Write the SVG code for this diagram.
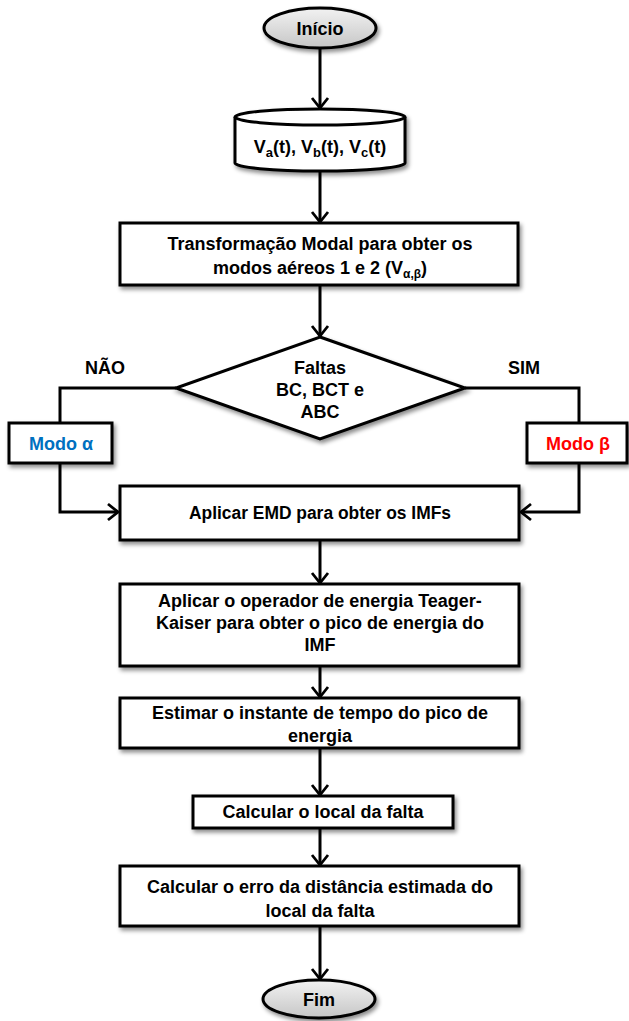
<svg xmlns="http://www.w3.org/2000/svg" width="629" height="1021" viewBox="0 0 629 1021">
<style>
  .shape { fill: #ffffff; stroke: #000000; stroke-width: 3; }
  .term { fill: url(#gray); stroke: #000000; stroke-width: 3; }
  .t { font-family: "Liberation Sans", Arial, sans-serif; font-weight: bold; font-size: 18px; fill: #000000; text-anchor: middle; }
  .conn { fill: none; stroke: #000000; stroke-width: 3; }
</style>
<defs>
  <linearGradient id="gray" x1="0" y1="0" x2="0" y2="1">
    <stop offset="0" stop-color="#f2f2f2"/>
    <stop offset="1" stop-color="#c6c6c6"/>
  </linearGradient>
  <filter id="sh" x="-10%" y="-20%" width="130%" height="160%">
    <feDropShadow dx="2" dy="3" stdDeviation="2" flood-color="#000000" flood-opacity="0.45"/>
  </filter>
  <marker id="arr" viewBox="-12 -11 14 22" refX="0" refY="0" markerWidth="14" markerHeight="22" markerUnits="userSpaceOnUse" orient="auto">
    <path d="M-10,-8 L0,0 L-10,8" fill="none" stroke="#000000" stroke-width="2.8"/>
  </marker>
</defs>

<g id="connectors">
  <line class="conn" x1="320" y1="48" x2="320" y2="108" marker-end="url(#arr)"/>
  <line class="conn" x1="320" y1="171" x2="320" y2="222" marker-end="url(#arr)"/>
  <line class="conn" x1="320" y1="285" x2="320" y2="336" marker-end="url(#arr)"/>
  <polyline class="conn" points="176,388 60,388 60,423"/>
  <polyline class="conn" points="465,388 579,388 579,423"/>
  <polyline class="conn" points="60,463 60,512 118,512" marker-end="url(#arr)"/>
  <polyline class="conn" points="579,463 579,512 521,512" marker-end="url(#arr)"/>
  <line class="conn" x1="320" y1="540" x2="320" y2="583" marker-end="url(#arr)"/>
  <line class="conn" x1="320" y1="666" x2="320" y2="697" marker-end="url(#arr)"/>
  <line class="conn" x1="320" y1="748" x2="320" y2="795" marker-end="url(#arr)"/>
  <line class="conn" x1="320" y1="828" x2="320" y2="865" marker-end="url(#arr)"/>
  <line class="conn" x1="320" y1="926" x2="320" y2="979" marker-end="url(#arr)"/>
</g>

<g id="inicio">
  <ellipse class="term" cx="320" cy="28" rx="56" ry="20" filter="url(#sh)"/>
  <text class="t" x="320" y="35" font-size="20">Início</text>
</g>

<g id="entrada">
  <path class="shape" filter="url(#sh)" d="M235,117 L235,163 A85,8 0 0 0 405,163 L405,117 A85,8 0 0 0 235,117 Z"/>
  <path d="M235,117 A85,8 0 0 0 405,117" fill="none" stroke="#000000" stroke-width="3"/>
  <text class="t" x="320" y="153" font-size="19">V<tspan font-size="13" dy="4">a</tspan><tspan dy="-4">(t), V</tspan><tspan font-size="13" dy="4">b</tspan><tspan dy="-4">(t), V</tspan><tspan font-size="13" dy="4">c</tspan><tspan dy="-4">(t)</tspan></text>
</g>

<g id="transformacao">
  <rect class="shape" x="120" y="223" width="398" height="62" filter="url(#sh)"/>
  <text class="t" x="320" y="250">Transformação Modal para obter os</text>
  <text class="t" x="320" y="274">modos aéreos 1 e 2 (V<tspan font-size="12" dy="4">α,β</tspan><tspan dy="-4">)</tspan></text>
</g>

<g id="decisao">
  <polygon class="shape" points="320,337 465,388 320,439 176,388" filter="url(#sh)"/>
  <text class="t" x="320" y="374">Faltas</text>
  <text class="t" x="320" y="396">BC, BCT e</text>
  <text class="t" x="320" y="418">ABC</text>
</g>

<g id="label-nao">
  <text class="t" x="105" y="374">NÃO</text>
</g>
<g id="label-sim">
  <text class="t" x="524" y="374">SIM</text>
</g>

<g id="modo-alfa">
  <rect class="shape" x="9" y="423" width="103" height="40" filter="url(#sh)"/>
  <text class="t" x="61" y="450" style="fill:#0070C0">Modo α</text>
</g>

<g id="modo-beta">
  <rect class="shape" x="527" y="423" width="100" height="40" filter="url(#sh)"/>
  <text class="t" x="578" y="450" style="fill:#FF0000">Modo β</text>
</g>

<g id="emd">
  <rect class="shape" x="120" y="486" width="399" height="54" filter="url(#sh)"/>
  <text class="t" x="320" y="519" textLength="262" lengthAdjust="spacingAndGlyphs">Aplicar EMD para obter os IMFs</text>
</g>

<g id="teager">
  <rect class="shape" x="120" y="584" width="399" height="82" filter="url(#sh)"/>
  <text class="t" x="320" y="607">Aplicar o operador de energia Teager-</text>
  <text class="t" x="320" y="629">Kaiser para obter o pico de energia do</text>
  <text class="t" x="320" y="651">IMF</text>
</g>

<g id="estimar">
  <rect class="shape" x="120" y="698" width="399" height="50" filter="url(#sh)"/>
  <text class="t" x="320" y="719">Estimar o instante de tempo do pico de</text>
  <text class="t" x="320" y="742">energia</text>
</g>

<g id="local">
  <rect class="shape" x="193" y="796" width="260" height="32" filter="url(#sh)"/>
  <text class="t" x="323" y="818">Calcular o local da falta</text>
</g>

<g id="erro">
  <rect class="shape" x="120" y="866" width="399" height="60" filter="url(#sh)"/>
  <text class="t" x="320" y="893">Calcular o erro da distância estimada do</text>
  <text class="t" x="320" y="917">local da falta</text>
</g>

<g id="fim">
  <ellipse class="term" cx="319" cy="999" rx="56" ry="19" filter="url(#sh)"/>
  <text class="t" x="319" y="1006" font-size="19">Fim</text>
</g>
</svg>
